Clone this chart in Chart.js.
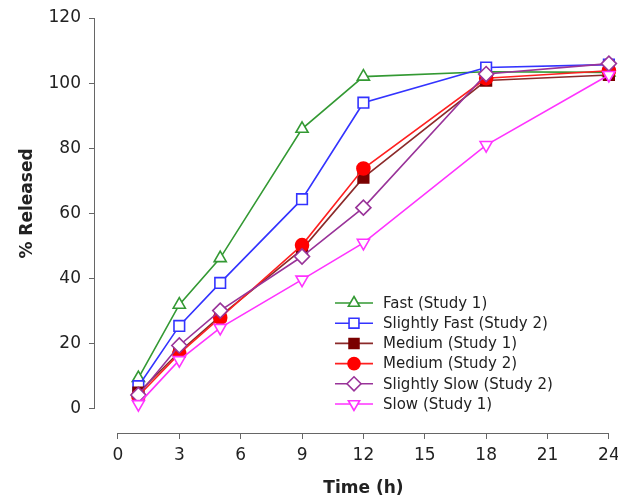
<!DOCTYPE html>
<html><head><meta charset="utf-8">
<script src="https://cdn.jsdelivr.net/npm/chart.js@4/dist/chart.umd.min.js"></script>
<style>html,body{margin:0;padding:0;background:#fff}</style>
</head><body>
<canvas id="c" width="618" height="500"></canvas>
<script>
const times = [1, 3, 5, 9, 12, 18, 24];
const xTicks = [0, 3, 6, 9, 12, 15, 18, 21, 24];
const yTicks = [0, 20, 40, 60, 80, 100, 120];
const seriesNames = ['Fast (Study 1)', 'Slightly Fast (Study 2)', 'Medium (Study 1)', 'Medium (Study 2)', 'Slightly Slow (Study 2)', 'Slow (Study 1)'];
const fast = [9.5, 32, 46.3, 86, 102, 103.5, 103.3];
const slightlyFast = [7, 25.5, 38.7, 64.4, 94, 104.8, 105.7];
const medium1 = [5, 17.5, 28.5, 49, 71, 100.8, 102.5];
const medium2 = [4, 17, 28, 50.3, 73.8, 101.5, 103.8];
const slightlySlow = [4.3, 19.5, 30.2, 46.8, 61.8, 102.8, 106];
const slow = [1.5, 15, 24.9, 39.7, 51, 81, 102.5];
const xTitle = 'Time (h)';
const yTitle = '% Released';

const styles = [
  {line: '#339933', border: '#339933', fill: '#ffffff', pointStyle: 'triangle', rotation: 0, radius: 7},
  {line: '#3333ff', border: '#3333ff', fill: '#ffffff', pointStyle: 'rect', rotation: 0, radius: 7.5},
  {line: '#8b2a2a', border: '#7a0000', fill: '#7a0000', pointStyle: 'rect', rotation: 0, radius: 7.5},
  {line: '#ff2020', border: '#ff0000', fill: '#ff0000', pointStyle: 'circle', rotation: 0, radius: 6.5},
  {line: '#993399', border: '#993399', fill: '#ffffff', pointStyle: 'rectRot', rotation: 0, radius: 7.5},
  {line: '#ff33ff', border: '#ff33ff', fill: '#ffffff', pointStyle: 'triangle', rotation: 180, radius: 7}
];
const seriesData = [fast, slightlyFast, medium1, medium2, slightlySlow, slow];

const datasets = seriesData.map((vals, i) => ({
  label: seriesNames[i],
  data: vals.map((v, j) => ({x: times[j], y: v})),
  borderColor: styles[i].line,
  borderWidth: 1.6,
  pointStyle: styles[i].pointStyle,
  pointRotation: styles[i].rotation,
  pointRadius: styles[i].radius,
  pointBackgroundColor: styles[i].fill,
  pointBorderColor: styles[i].border,
  pointBorderWidth: 1.6,
  tension: 0,
  clip: false,
  order: seriesData.length - 1 - i
}));

const FONT = "'DejaVu Sans', sans-serif";
const TEXT = '#222222';
const AXIS = '#666666';

const decor = {
  id: 'decor',
  beforeDatasetsDraw(chart) {
    const {ctx, chartArea, scales: {x, y}} = chart;
    ctx.save();
    ctx.strokeStyle = AXIS;
    ctx.lineWidth = 1;
    const ax = Math.round(chartArea.left) - 0.5;
    ctx.beginPath();
    ctx.moveTo(ax, y.getPixelForValue(yTicks[0]));
    ctx.lineTo(ax, y.getPixelForValue(yTicks[yTicks.length - 1]));
    ctx.stroke();
    const ay = Math.round(chartArea.bottom) + 0.5;
    ctx.beginPath();
    ctx.moveTo(x.getPixelForValue(xTicks[0]), ay);
    ctx.lineTo(x.getPixelForValue(xTicks[xTicks.length - 1]), ay);
    ctx.stroke();
    ctx.restore();
  },
  afterDraw(chart) {
    const {ctx, scales: {x, y}} = chart;
    ctx.save();
    ctx.fillStyle = TEXT;
    ctx.font = "bold 17px " + FONT;
    ctx.textAlign = 'center';
    ctx.textBaseline = 'middle';
    ctx.fillText(xTitle, (x.getPixelForValue(xTicks[0]) + x.getPixelForValue(xTicks[xTicks.length - 1])) / 2, 489);
    ctx.save();
    ctx.translate(28, (y.getPixelForValue(0) + y.getPixelForValue(120)) / 2 - 10);
    ctx.rotate(-Math.PI / 2);
    ctx.fillText(yTitle, 0, 0);
    ctx.restore();
    const lx0 = 335, lx1 = 373, mx = 354, tx = 383, ly0 = 303, dy = 20.2;
    chart.data.datasets.forEach((ds, i) => {
      const yy = ly0 + dy * i;
      const st = styles[i];
      ctx.strokeStyle = st.line;
      ctx.lineWidth = 1.6;
      ctx.beginPath();
      ctx.moveTo(lx0, yy);
      ctx.lineTo(lx1, yy);
      ctx.stroke();
      ctx.fillStyle = st.fill;
      ctx.strokeStyle = st.border;
      ctx.lineWidth = 1.6;
      Chart.helpers.drawPoint(ctx, {pointStyle: st.pointStyle, rotation: st.rotation, radius: st.radius - 0.5, borderWidth: 1.6}, mx, yy);
      ctx.fillStyle = TEXT;
      ctx.font = "15px " + FONT;
      ctx.textAlign = 'left';
      ctx.textBaseline = 'middle';
      ctx.fillText(ds.label, tx, yy + 1);
    });
    ctx.restore();
  }
};

new Chart(document.getElementById('c'), {
  type: 'line',
  data: {datasets},
  plugins: [decor],
  options: {
    responsive: false,
    animation: false,
    devicePixelRatio: 1,
    layout: {padding: {top: 18, right: 9, left: 0, bottom: 0}},
    plugins: {legend: {display: false}, tooltip: {enabled: false}},
    scales: {
      x: {
        type: 'linear',
        min: -1.12,
        max: 24,
        afterBuildTicks: s => { s.ticks = xTicks.map(v => ({value: v})); },
        afterFit: s => { s.height = 67; s.paddingRight = 0; s.paddingLeft = 0; },
        grid: {display: true, drawOnChartArea: false, drawTicks: true, tickLength: 6, color: AXIS},
        border: {display: false},
        ticks: {font: {family: FONT, size: 17}, color: TEXT, padding: 6, maxRotation: 0, autoSkip: false}
      },
      y: {
        type: 'linear',
        min: -7.37,
        max: 120,
        afterBuildTicks: s => { s.ticks = yTicks.map(v => ({value: v})); },
        afterFit: s => { s.width = 95; s.paddingTop = 0; s.paddingBottom = 0; },
        grid: {display: true, drawOnChartArea: false, drawTicks: true, tickLength: 6, color: AXIS},
        border: {display: false},
        ticks: {font: {family: FONT, size: 17}, color: TEXT, padding: 8}
      }
    }
  }
});
</script>
</body></html>
